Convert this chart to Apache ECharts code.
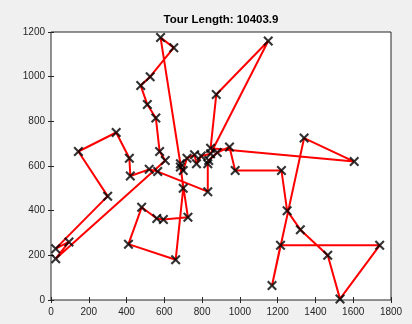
<!DOCTYPE html>
<html>
<head>
<meta charset="utf-8">
<script src="https://cdn.jsdelivr.net/npm/echarts@6/dist/echarts.min.js"></script>
<style>
html, body { margin: 0; padding: 0; background: #f0f0f0; }
#chart1 { width: 412px; height: 324px; }
</style>
</head>
<body>
<div id="chart1"></div>
<script>
// tour title and axis range
var titleText = 'Tour Length: 10403.9';
var xMin = 0, xMax = 1800, xStep = 200;
var yMin = 0, yMax = 1200, yStep = 200;

// city coordinates, listed in the order the tour visits them
var tourX = [580, 650, 525, 475, 510, 555, 575, 605, 25, 95, 25, 300, 145, 345, 415, 420,
             520, 565, 830, 830, 835, 880, 945, 975, 1220, 1250, 1320, 1465, 1530, 1740, 1215, 1170,
             1340, 1605, 845, 875, 1150, 845, 795, 770, 760, 720, 700, 685, 725, 595, 560, 480,
             410, 660, 700, 685];
var tourY = [1175, 1130, 1000, 960, 875, 815, 665, 625, 185, 260, 230, 465, 665, 750, 635, 555,
             585, 575, 485, 610, 625, 660, 685, 580, 580, 400, 315, 200, 5, 245, 245, 65,
             725, 620, 680, 920, 1160, 655, 645, 610, 650, 635, 580, 595, 370, 360, 365, 415,
             250, 180, 500, 610];

var myChart = echarts.init(document.getElementById('chart1'));

var pts = tourX.map(function (x, i) { return [x, tourY[i]]; });
var loop = pts.concat([pts[0]]);   // close the tour
var cross = 'path://M0,1.5L1.5,0L5,3.5L8.5,0L10,1.5L6.5,5L10,8.5L8.5,10L5,6.5L1.5,10L0,8.5L3.5,5Z';
var axText = { color: '#262626', fontSize: 10, fontFamily: 'Liberation Sans, Arial, sans-serif',
               formatter: function (v) { return String(v); } };
var tick = { inside: true, length: 3, lineStyle: { color: '#262626' } };

var option = {
    backgroundColor: '#f0f0f0',
    animation: false,
    graphic: [{
        type: 'text', x: 221, y: 20,
        style: {
            text: titleText, fill: '#000', align: 'center', verticalAlign: 'middle',
            font: 'bold 11.5px "Liberation Sans", Arial, sans-serif'
        }
    }],
    grid: { left: 51, right: 21, top: 32, bottom: 24, show: true,
            backgroundColor: '#fff', borderColor: '#262626', borderWidth: 1 },
    xAxis: [
        { type: 'value', min: xMin, max: xMax, interval: xStep, splitLine: { show: false },
          axisLine: { show: false }, axisTick: tick,
          axisLabel: Object.assign({ margin: 7 }, axText) },
        { type: 'value', position: 'top', min: xMin, max: xMax, interval: xStep, splitLine: { show: false },
          axisLine: { show: false }, axisTick: tick, axisLabel: { show: false } }
    ],
    yAxis: [
        { type: 'value', min: yMin, max: yMax, interval: yStep, splitLine: { show: false },
          axisLine: { show: false }, axisTick: tick,
          axisLabel: Object.assign({ margin: 6 }, axText) },
        { type: 'value', position: 'right', min: yMin, max: yMax, interval: yStep, splitLine: { show: false },
          axisLine: { show: false }, axisTick: tick, axisLabel: { show: false } }
    ],
    series: [
        {
            type: 'line', data: loop, showSymbol: false, z: 2,
            lineStyle: { color: '#ff0000', width: 2 }
        },
        {
            type: 'scatter', data: pts, symbol: cross, symbolSize: 10, z: 3,
            itemStyle: { color: '#000' }
        }
    ]
};
myChart.setOption(option);
</script>
</body>
</html>
